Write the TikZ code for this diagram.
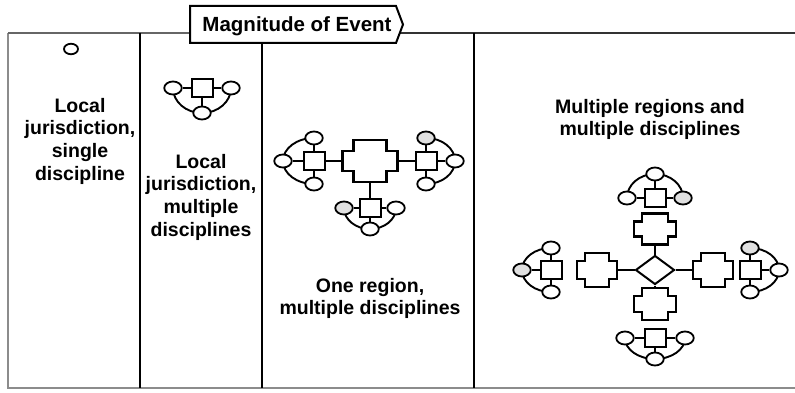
\documentclass[tikz,border=0pt]{standalone}
\usepackage{fontspec}
\setmainfont{Liberation Sans}
\usetikzlibrary{shapes.geometric}
\newcommand\clu[9]{% name, x, y, rotation, side dist, far dist, side1 style, far style, side2 style
  \begin{scope}[shift={(#2,#3)},rotate=#4]
    \draw[link] (-#5,0) arc[start angle=180,end angle=360,x radius=#5,y radius=#6];
    \node[hub] (#1) at (0,0) {};
    \node[oval,#7] (#1a) at (-#5,0) {};
    \node[oval,#8] (#1f) at (0,-#6) {};
    \node[oval,#9] (#1b) at (#5,0) {};
    \draw[link] (#1) -- (#1a);
    \draw[link] (#1) -- (#1f);
    \draw[link] (#1) -- (#1b);
  \end{scope}}
\newcommand\crs[6]{% name, x, y, half width, half height, notch
  \begin{scope}[shift={(#2,#3)}]
    \node[minimum width=2*#4pt,minimum height=2*#5pt,inner sep=0pt] (#1) at (0,0) {};
    \draw[shp] (-#4+#6,#5) -- (#4-#6,#5) -- (#4-#6,#5-#6) -- (#4,#5-#6) -- (#4,-#5+#6)
      -- (#4-#6,-#5+#6) -- (#4-#6,-#5) -- (-#4+#6,-#5) -- (-#4+#6,-#5+#6) -- (-#4,-#5+#6)
      -- (-#4,#5-#6) -- (-#4+#6,#5-#6) -- cycle;
  \end{scope}}
\begin{document}
\begin{tikzpicture}[x=1pt,y=1pt,
  shp/.style={line width=2.1pt,line join=miter},
  link/.style={line width=1.9pt},
  oval/.style={ellipse,draw,line width=1.8pt,fill=white,minimum width=17.5pt,minimum height=13pt,inner sep=0pt},
  hub/.style={rectangle,draw,line width=2pt,fill=white,minimum width=21pt,minimum height=17.5pt,inner sep=0pt},
  shade/.style={fill=black!12},
  none/.style={},
  lbl/.style={font=\bfseries\fontsize{19.5}{22.6}\selectfont,align=center,inner sep=0pt,anchor=north},
  divider/.style={line width=2pt},
  frame/.style={line width=2.5pt,black!45}]
\useasboundingbox (0,0) rectangle (795,-393);
% frame
\draw[frame] (8,-33) -- (8,-388) -- (795,-388);
\draw[line width=2.5pt,black!60] (8,-33) -- (190,-33);
\draw[line width=2.5pt,black!80] (399.8,-33) -- (795,-33);
\draw[divider] (140,-33) -- (140,-388);
\draw[divider] (262,-43) -- (262,-388);
\draw[divider] (474,-33) -- (474,-388);
% title
\draw[line width=2pt,fill=white] (190,-6) -- (396,-6) -- (403,-24.5) -- (396,-43) -- (190,-43) -- cycle;
\node[font=\bfseries\fontsize{20.5}{24}\selectfont,anchor=base,inner sep=0pt] (title) at (297,-32) {Magnitude of Event};
% column 1
\node[oval,minimum width=14pt,minimum height=10.5pt] (single) at (71,-49) {};
\node[lbl] (t1) at (80,-98) {Local\\jurisdiction,\\single\\discipline};
% column 2
\clu{k}{202}{-88}{0}{29}{25}{none}{none}{none}
\node[lbl] (t2) at (201,-154) {Local\\jurisdiction,\\multiple\\disciplines};
% column 3
\crs{c3}{370}{-161}{27.5}{21}{11}
\clu{p}{314}{-161}{-90}{23}{31}{none}{none}{none}
\clu{q}{426}{-161}{90}{23}{29}{none}{none}{shade}
\clu{r}{370}{-208}{0}{26}{21}{shade}{none}{none}
\draw[link] (c3) -- (p);
\draw[link] (c3) -- (q);
\draw[link] (c3) -- (r);
\node[lbl] (t3) at (370,-278) {One region,\\multiple disciplines};
% column 4
\node[diamond,draw,line width=2pt,minimum width=39pt,minimum height=29pt,inner sep=0pt] (dia) at (655,-270) {};
\crs{xl}{597}{-270}{20}{17}{8}
\crs{xr}{713}{-270}{20}{17}{8}
\crs{xt}{655}{-229}{21}{15.5}{8}
\crs{xb}{655}{-304}{21}{16}{8}
\draw[link] (dia) -- (xl);
\draw[link] (dia) -- (xr);
\draw[link] (dia) -- (xt);
\draw[link] (dia) -- (xb);
\clu{s}{551}{-270}{-90}{22}{29}{none}{shade}{none}
\clu{u}{750}{-270}{90}{22}{29}{none}{none}{shade}
\clu{v}{655}{-198}{180}{28}{24}{shade}{none}{none}
\clu{w}{655}{-338}{0}{30}{21}{none}{none}{none}
\node[lbl] (t4) at (650,-99) {Multiple regions and\\multiple disciplines};
\end{tikzpicture}
\end{document}
